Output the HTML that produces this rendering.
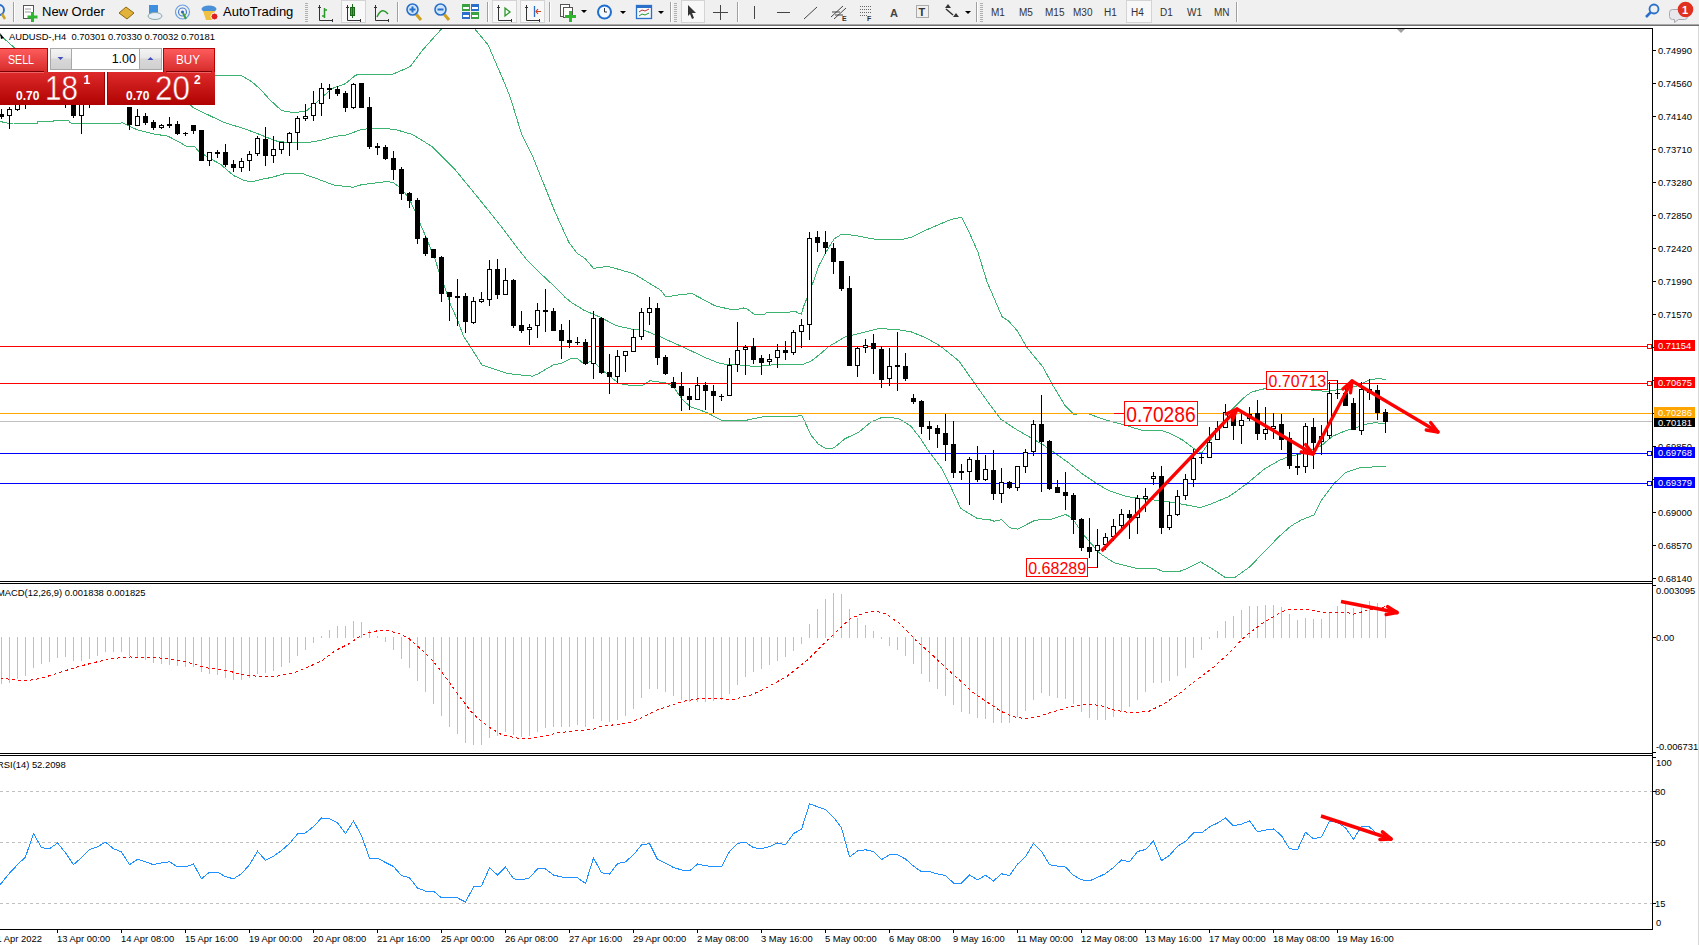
<!DOCTYPE html>
<html><head><meta charset="utf-8"><title>AUDUSD H4</title>
<style>
html,body{margin:0;padding:0;background:#fff;}
body{width:1699px;height:945px;overflow:hidden;position:relative;}
svg{position:absolute;left:0;top:0;font-family:"Liberation Sans", sans-serif;}
</style></head><body>
<svg width="1699" height="945" viewBox="0 0 1699 945">
<defs><clipPath id="mainclip"><rect x="0" y="29" width="1652" height="552"/></clipPath></defs>
<rect x="0" y="0" width="1699" height="945" fill="#fff"/>
<g clip-path="url(#mainclip)">
<polyline points="0.5,35.5 11.5,45.2 16.5,49.5 217.6,75.9 229.1,75.9 230.0,75.0 238.6,75.0 242.4,76.1 251.9,81.8 261.5,90.4 269.1,99.0 281.5,110.6 290.5,112.1 295.2,112.8 306.5,110.7 319.0,100.3 331.4,88.8 345.6,83.6 355.2,75.5 359.4,74.0 393.3,74.0 410.2,66.6 422.9,49.7 441.9,28.5" fill="none" stroke="#3cb371" stroke-width="1" shape-rendering="crispEdges"/>
<polyline points="474.4,28.5 488.2,45.1 504.9,84.0 510.4,97.8 521.5,133.9 532.6,156.1 543.7,183.8 554.8,211.5 568.7,242.0 577.0,253.1 585.3,258.7 593.6,268.4 607.5,266.4 620.5,269.8 634.5,274.1 661.1,290.5 665.8,296.7 675.4,295.7 680.1,294.3 692.5,293.8 715.0,305.8 724.5,308.0 728.3,308.9 734.7,309.9 739.7,308.9 743.5,308.0 746.7,308.6 753.7,314.0 765.1,314.0 766.4,312.7 789.3,312.7 790.5,311.8 796.2,311.8 797.5,312.7 801.3,314.0 803.9,305.7 807.0,298.1 813.3,281.7 819.0,265.5 826.5,251.2 834.2,238.8 841.8,234.1 847.5,234.5 855.2,235.5 862.8,236.9 872.3,238.8 879.0,239.8 900.9,239.8 912.3,236.9 925.6,230.3 940.5,223.8 952.1,219.1 961.5,217.3 968.5,230.8 977.8,251.7 987.1,282.0 1002.2,317.0 1008.1,320.5 1017.4,330.9 1026.7,347.3 1043.0,367.0 1052.3,384.5 1065.3,406.0 1073.8,414.5 1081.5,413.1 1086.2,413.1 1105.3,419.8 1124.3,425.0 1143.4,430.7 1160.5,430.3 1169.1,432.9 1183.4,440.5 1195.7,450.0 1201.5,453.4 1209.1,442.4 1221.5,424.3 1231.3,410.1 1238.5,402.9 1245.7,396.1 1251.5,392.2 1260.1,389.6 1266.5,388.5 1290.5,389.0 1310.5,390.0 1321.2,390.7 1324.5,391.7 1337.8,389.8 1346.4,388.4 1356.9,386.0 1365.5,381.7 1372.1,379.3 1379.7,378.6 1385.5,379.8" fill="none" stroke="#3cb371" stroke-width="1" shape-rendering="crispEdges"/>
<polyline points="185.5,100.5 192.9,107.5 211.9,116.7 225.3,122.9 242.4,128.1 255.7,132.9 274.8,140.5 277.1,141.2 292.3,142.9 306.5,142.9 321.8,140.1 335.2,136.3 346.5,135.0 359.9,130.0 367.5,128.8 388.5,128.8 397.5,130.1 412.5,134.5 422.4,140.5 432.9,147.2 453.8,168.1 475.7,194.8 499.5,224.3 515.5,245.5 526.0,258.8 541.3,274.1 555.5,287.5 565.1,297.4 571.7,302.6 584.1,310.3 590.8,313.1 601.1,317.6 616.3,325.7 633.5,329.5 644.9,330.5 661.1,337.2 680.1,345.7 692.5,351.5 706.5,358.1 720.9,363.8 735.2,364.8 746.5,365.3 754.2,366.7 763.7,365.7 773.3,364.8 801.8,364.8 811.4,361.0 820.9,353.4 828.5,346.7 844.5,337.2 854.0,334.8 877.8,328.9 894.0,329.1 911.2,331.9 925.5,337.6 940.5,346.1 959.1,361.2 975.4,384.5 987.1,400.8 1001.1,419.5 1018.0,430.5 1031.4,438.1 1043.4,445.0 1055.0,453.1 1068.3,462.6 1082.6,474.1 1096.9,483.6 1108.5,490.5 1127.5,496.7 1144.7,499.1 1163.7,501.0 1182.8,504.3 1199.9,507.6 1211.4,503.8 1228.5,496.7 1237.6,490.5 1247.2,483.4 1264.3,469.1 1278.8,460.7 1288.3,456.5 1302.6,453.6 1321.6,445.5 1332.1,436.5 1345.5,430.7 1356.9,427.4 1364.5,424.5 1375.0,422.6 1385.5,424.1" fill="none" stroke="#3cb371" stroke-width="1" shape-rendering="crispEdges"/>
<polyline points="0.5,121.5 9.5,123.7 13.5,123.0 37.5,123.0 37.5,121.8 53.5,121.8 53.5,120.7 68.5,120.7 70.5,123.0 78.5,123.7 117.5,123.7 122.5,122.8 136.5,129.5 152.9,133.8 168.1,136.2 186.2,146.0 193.8,146.0 199.5,151.9 211.9,159.5 220.5,164.3 233.8,175.7 244.3,180.5 251.9,181.9 265.3,178.5 270.5,177.7 285.3,173.5 302.2,173.5 317.1,178.8 334.0,185.1 353.0,187.2 361.5,184.7 383.5,181.9 390.0,181.9 393.8,182.9 399.5,187.2 405.3,193.4 411.0,202.4 415.4,212.2 421.1,226.0 425.8,236.5 431.1,249.8 435.4,260.3 439.4,273.1 445.1,288.4 450.8,305.5 457.5,319.8 463.2,335.5 482.1,365.1 507.5,373.5 532.5,376.2 538.2,373.8 553.5,364.8 561.1,363.4 570.6,358.6 577.3,358.6 583.9,363.8 593.0,360.7 603.3,371.1 618.9,383.5 630.5,385.5 642.2,385.5 649.9,380.7 665.5,383.0 673.3,386.7 682.4,399.6 690.4,406.7 706.5,412.4 720.9,420.0 747.5,420.0 763.7,416.7 797.0,417.0 798.2,415.7 801.9,415.7 811.0,435.1 818.4,444.2 825.8,448.7 834.1,447.9 844.8,438.8 858.8,432.2 871.1,421.9 881.0,417.8 893.4,417.8 899.2,419.0 910.7,426.0 920.5,438.4 927.5,449.5 941.8,468.6 950.2,485.5 960.7,508.4 977.8,518.8 988.3,519.3 994.0,521.2 1001.6,519.8 1010.2,527.9 1017.8,529.1 1034.0,520.7 1039.7,519.8 1051.2,519.3 1065.5,514.5 1072.1,517.9 1079.7,529.3 1084.7,536.2 1099.9,553.4 1114.2,562.9 1135.2,568.1 1154.2,568.1 1163.7,571.5 1178.0,571.9 1184.7,569.5 1200.5,561.7 1212.7,569.1 1225.7,577.8 1234.4,577.8 1249.1,567.3 1254.3,562.1 1278.6,537.0 1290.8,526.1 1301.2,520.0 1314.2,514.8 1321.2,500.5 1334.0,483.6 1345.5,472.6 1359.7,467.9 1374.0,466.9 1385.5,466.9" fill="none" stroke="#3cb371" stroke-width="1" shape-rendering="crispEdges"/>
<rect x="0" y="346" width="1652" height="1" fill="#ff0000" />
<rect x="0" y="383" width="1652" height="1" fill="#ff0000" />
<rect x="0" y="413" width="1652" height="1" fill="#ffa500" />
<rect x="0" y="421" width="1652" height="1" fill="#c0c0c0" />
<rect x="0" y="453" width="1652" height="1" fill="#0000ff" />
<rect x="0" y="483" width="1652" height="1" fill="#0000ff" />
<rect x="1647.5" y="344.5" width="4" height="4" fill="#fff" stroke="#ff0000" stroke-width="1"/>
<rect x="1647.5" y="381.5" width="4" height="4" fill="#fff" stroke="#ff0000" stroke-width="1"/>
<rect x="1647.5" y="451.5" width="4" height="4" fill="#fff" stroke="#0000ff" stroke-width="1"/>
<rect x="1647.5" y="481.5" width="4" height="4" fill="#fff" stroke="#0000ff" stroke-width="1"/>
<rect x="1" y="109" width="1" height="10" fill="#000" />
<rect x="-1" y="114" width="5" height="3" fill="#000" />
<rect x="9" y="107" width="1" height="22" fill="#000" />
<rect x="7.5" y="109.5" width="4" height="6" fill="#fff" stroke="#000" stroke-width="1"/>
<rect x="17" y="95" width="1" height="16" fill="#000" />
<rect x="15.5" y="100.5" width="4" height="9" fill="#fff" stroke="#000" stroke-width="1"/>
<rect x="25" y="96" width="1" height="13" fill="#000" />
<rect x="23" y="99" width="5" height="4" fill="#000" />
<rect x="33" y="92" width="1" height="11" fill="#000" />
<rect x="31.5" y="95.5" width="4" height="4" fill="#fff" stroke="#000" stroke-width="1"/>
<rect x="41" y="90" width="1" height="12" fill="#000" />
<rect x="39" y="93" width="5" height="6" fill="#000" />
<rect x="49" y="88" width="1" height="13" fill="#000" />
<rect x="47.5" y="92.5" width="4" height="5" fill="#fff" stroke="#000" stroke-width="1"/>
<rect x="57" y="89" width="1" height="14" fill="#000" />
<rect x="55" y="94" width="5" height="6" fill="#000" />
<rect x="65" y="94" width="1" height="14" fill="#000" />
<rect x="63" y="97" width="5" height="4" fill="#000" />
<rect x="73" y="95" width="1" height="23" fill="#000" />
<rect x="71" y="100" width="5" height="16" fill="#000" />
<rect x="81" y="95" width="1" height="39" fill="#000" />
<rect x="79.5" y="100.5" width="4" height="15" fill="#fff" stroke="#000" stroke-width="1"/>
<rect x="89" y="96" width="1" height="12" fill="#000" />
<rect x="87" y="99" width="5" height="4" fill="#000" />
<rect x="97" y="90" width="1" height="13" fill="#000" />
<rect x="95.5" y="94.5" width="4" height="5" fill="#fff" stroke="#000" stroke-width="1"/>
<rect x="105" y="88" width="1" height="14" fill="#000" />
<rect x="103" y="92" width="5" height="6" fill="#000" />
<rect x="113" y="86" width="1" height="15" fill="#000" />
<rect x="111.5" y="90.5" width="4" height="6" fill="#fff" stroke="#000" stroke-width="1"/>
<rect x="121" y="92" width="1" height="12" fill="#000" />
<rect x="119" y="96" width="5" height="6" fill="#000" />
<rect x="129" y="107" width="1" height="23" fill="#000" />
<rect x="127" y="107" width="5" height="18" fill="#000" />
<rect x="137" y="109" width="1" height="17" fill="#000" />
<rect x="135.5" y="116.5" width="4" height="9" fill="#fff" stroke="#000" stroke-width="1"/>
<rect x="145" y="113" width="1" height="12" fill="#000" />
<rect x="143" y="116" width="5" height="7" fill="#000" />
<rect x="153" y="120" width="1" height="10" fill="#000" />
<rect x="151" y="122" width="5" height="6" fill="#000" />
<rect x="161" y="124" width="1" height="5" fill="#000" />
<rect x="159.5" y="125.5" width="4" height="2" fill="#fff" stroke="#000" stroke-width="1"/>
<rect x="169" y="117" width="1" height="11" fill="#000" />
<rect x="167" y="124" width="5" height="2" fill="#000" />
<rect x="177" y="121" width="1" height="14" fill="#000" />
<rect x="175" y="124" width="5" height="10" fill="#000" />
<rect x="185" y="132" width="1" height="4" fill="#000" />
<rect x="183" y="133" width="5" height="1" fill="#000" />
<rect x="193" y="125" width="1" height="9" fill="#000" />
<rect x="191" y="125" width="5" height="6" fill="#000" />
<rect x="201" y="130" width="1" height="31" fill="#000" />
<rect x="199" y="130" width="5" height="31" fill="#000" />
<rect x="209" y="152" width="1" height="14" fill="#000" />
<rect x="207.5" y="152.5" width="4" height="8" fill="#fff" stroke="#000" stroke-width="1"/>
<rect x="217" y="150" width="1" height="8" fill="#000" />
<rect x="215" y="152" width="5" height="2" fill="#000" />
<rect x="225" y="144" width="1" height="23" fill="#000" />
<rect x="223" y="152" width="5" height="13" fill="#000" />
<rect x="233" y="160" width="1" height="12" fill="#000" />
<rect x="231" y="164" width="5" height="4" fill="#000" />
<rect x="241" y="158" width="1" height="14" fill="#000" />
<rect x="239.5" y="161.5" width="4" height="6" fill="#fff" stroke="#000" stroke-width="1"/>
<rect x="249" y="151" width="1" height="20" fill="#000" />
<rect x="247.5" y="154.5" width="4" height="6" fill="#fff" stroke="#000" stroke-width="1"/>
<rect x="257" y="136" width="1" height="20" fill="#000" />
<rect x="255.5" y="138.5" width="4" height="15" fill="#fff" stroke="#000" stroke-width="1"/>
<rect x="265" y="127" width="1" height="39" fill="#000" />
<rect x="263" y="139" width="5" height="17" fill="#000" />
<rect x="273" y="136" width="1" height="27" fill="#000" />
<rect x="271.5" y="149.5" width="4" height="6" fill="#fff" stroke="#000" stroke-width="1"/>
<rect x="281" y="142" width="1" height="12" fill="#000" />
<rect x="279.5" y="142.5" width="4" height="7" fill="#fff" stroke="#000" stroke-width="1"/>
<rect x="289" y="132" width="1" height="24" fill="#000" />
<rect x="287.5" y="133.5" width="4" height="9" fill="#fff" stroke="#000" stroke-width="1"/>
<rect x="297" y="116" width="1" height="34" fill="#000" />
<rect x="295.5" y="118.5" width="4" height="14" fill="#fff" stroke="#000" stroke-width="1"/>
<rect x="305" y="104" width="1" height="17" fill="#000" />
<rect x="303.5" y="116.5" width="4" height="2" fill="#fff" stroke="#000" stroke-width="1"/>
<rect x="313" y="91" width="1" height="30" fill="#000" />
<rect x="311.5" y="103.5" width="4" height="12" fill="#fff" stroke="#000" stroke-width="1"/>
<rect x="321" y="83" width="1" height="33" fill="#000" />
<rect x="319.5" y="88.5" width="4" height="15" fill="#fff" stroke="#000" stroke-width="1"/>
<rect x="329" y="84" width="1" height="15" fill="#000" />
<rect x="327" y="88" width="5" height="2" fill="#000" />
<rect x="337" y="86" width="1" height="10" fill="#000" />
<rect x="335" y="89" width="5" height="5" fill="#000" />
<rect x="345" y="91" width="1" height="21" fill="#000" />
<rect x="343" y="93" width="5" height="15" fill="#000" />
<rect x="353" y="83" width="1" height="26" fill="#000" />
<rect x="351.5" y="84.5" width="4" height="23" fill="#fff" stroke="#000" stroke-width="1"/>
<rect x="361" y="83" width="1" height="25" fill="#000" />
<rect x="359" y="83" width="5" height="25" fill="#000" />
<rect x="369" y="97" width="1" height="52" fill="#000" />
<rect x="367" y="107" width="5" height="40" fill="#000" />
<rect x="377" y="143" width="1" height="12" fill="#000" />
<rect x="375" y="146" width="5" height="2" fill="#000" />
<rect x="385" y="145" width="1" height="15" fill="#000" />
<rect x="383" y="147" width="5" height="12" fill="#000" />
<rect x="393" y="151" width="1" height="29" fill="#000" />
<rect x="391" y="158" width="5" height="12" fill="#000" />
<rect x="401" y="167" width="1" height="33" fill="#000" />
<rect x="399" y="169" width="5" height="25" fill="#000" />
<rect x="409" y="192" width="1" height="16" fill="#000" />
<rect x="407" y="193" width="5" height="8" fill="#000" />
<rect x="417" y="198" width="1" height="46" fill="#000" />
<rect x="415" y="200" width="5" height="39" fill="#000" />
<rect x="425" y="236" width="1" height="20" fill="#000" />
<rect x="423" y="238" width="5" height="16" fill="#000" />
<rect x="433" y="249" width="1" height="9" fill="#000" />
<rect x="431" y="249" width="5" height="9" fill="#000" />
<rect x="441" y="256" width="1" height="46" fill="#000" />
<rect x="439" y="257" width="5" height="37" fill="#000" />
<rect x="449" y="292" width="1" height="29" fill="#000" />
<rect x="447" y="292" width="5" height="5" fill="#000" />
<rect x="457" y="279" width="1" height="47" fill="#000" />
<rect x="455" y="296" width="5" height="2" fill="#000" />
<rect x="465" y="293" width="1" height="40" fill="#000" />
<rect x="463" y="296" width="5" height="26" fill="#000" />
<rect x="473" y="297" width="1" height="27" fill="#000" />
<rect x="471.5" y="301.5" width="4" height="21" fill="#fff" stroke="#000" stroke-width="1"/>
<rect x="481" y="292" width="1" height="11" fill="#000" />
<rect x="479.5" y="299.5" width="4" height="2" fill="#fff" stroke="#000" stroke-width="1"/>
<rect x="489" y="260" width="1" height="46" fill="#000" />
<rect x="487.5" y="269.5" width="4" height="30" fill="#fff" stroke="#000" stroke-width="1"/>
<rect x="497" y="259" width="1" height="40" fill="#000" />
<rect x="495" y="269" width="5" height="26" fill="#000" />
<rect x="505" y="268" width="1" height="27" fill="#000" />
<rect x="503.5" y="280.5" width="4" height="14" fill="#fff" stroke="#000" stroke-width="1"/>
<rect x="513" y="279" width="1" height="49" fill="#000" />
<rect x="511" y="280" width="5" height="46" fill="#000" />
<rect x="521" y="311" width="1" height="22" fill="#000" />
<rect x="519" y="325" width="5" height="6" fill="#000" />
<rect x="529" y="324" width="1" height="21" fill="#000" />
<rect x="527.5" y="327.5" width="4" height="2" fill="#fff" stroke="#000" stroke-width="1"/>
<rect x="537" y="303" width="1" height="35" fill="#000" />
<rect x="535.5" y="310.5" width="4" height="15" fill="#fff" stroke="#000" stroke-width="1"/>
<rect x="545" y="289" width="1" height="43" fill="#000" />
<rect x="543" y="310" width="5" height="2" fill="#000" />
<rect x="553" y="308" width="1" height="23" fill="#000" />
<rect x="551" y="311" width="5" height="20" fill="#000" />
<rect x="561" y="324" width="1" height="35" fill="#000" />
<rect x="559" y="330" width="5" height="11" fill="#000" />
<rect x="569" y="320" width="1" height="28" fill="#000" />
<rect x="567" y="340" width="5" height="3" fill="#000" />
<rect x="577" y="337" width="1" height="8" fill="#000" />
<rect x="575" y="342" width="5" height="1" fill="#000" />
<rect x="585" y="339" width="1" height="26" fill="#000" />
<rect x="583" y="342" width="5" height="22" fill="#000" />
<rect x="593" y="311" width="1" height="68" fill="#000" />
<rect x="591.5" y="318.5" width="4" height="45" fill="#fff" stroke="#000" stroke-width="1"/>
<rect x="601" y="317" width="1" height="57" fill="#000" />
<rect x="599" y="318" width="5" height="55" fill="#000" />
<rect x="609" y="354" width="1" height="40" fill="#000" />
<rect x="607" y="372" width="5" height="5" fill="#000" />
<rect x="617" y="350" width="1" height="33" fill="#000" />
<rect x="615.5" y="356.5" width="4" height="20" fill="#fff" stroke="#000" stroke-width="1"/>
<rect x="625" y="351" width="1" height="21" fill="#000" />
<rect x="623.5" y="351.5" width="4" height="4" fill="#fff" stroke="#000" stroke-width="1"/>
<rect x="633" y="329" width="1" height="23" fill="#000" />
<rect x="631.5" y="337.5" width="4" height="14" fill="#fff" stroke="#000" stroke-width="1"/>
<rect x="641" y="308" width="1" height="32" fill="#000" />
<rect x="639.5" y="312.5" width="4" height="24" fill="#fff" stroke="#000" stroke-width="1"/>
<rect x="649" y="297" width="1" height="28" fill="#000" />
<rect x="647.5" y="308.5" width="4" height="4" fill="#fff" stroke="#000" stroke-width="1"/>
<rect x="657" y="303" width="1" height="62" fill="#000" />
<rect x="655" y="308" width="5" height="50" fill="#000" />
<rect x="665" y="355" width="1" height="20" fill="#000" />
<rect x="663" y="357" width="5" height="17" fill="#000" />
<rect x="673" y="377" width="1" height="11" fill="#000" />
<rect x="671" y="382" width="5" height="6" fill="#000" />
<rect x="681" y="372" width="1" height="39" fill="#000" />
<rect x="679" y="386" width="5" height="10" fill="#000" />
<rect x="689" y="388" width="1" height="22" fill="#000" />
<rect x="687" y="396" width="5" height="4" fill="#000" />
<rect x="697" y="377" width="1" height="23" fill="#000" />
<rect x="695.5" y="385.5" width="4" height="14" fill="#fff" stroke="#000" stroke-width="1"/>
<rect x="705" y="382" width="1" height="28" fill="#000" />
<rect x="703" y="385" width="5" height="6" fill="#000" />
<rect x="713" y="385" width="1" height="28" fill="#000" />
<rect x="711" y="391" width="5" height="5" fill="#000" />
<rect x="721" y="394" width="1" height="7" fill="#000" />
<rect x="719" y="396" width="5" height="1" fill="#000" />
<rect x="729" y="358" width="1" height="38" fill="#000" />
<rect x="727.5" y="365.5" width="4" height="30" fill="#fff" stroke="#000" stroke-width="1"/>
<rect x="737" y="322" width="1" height="50" fill="#000" />
<rect x="735.5" y="350.5" width="4" height="14" fill="#fff" stroke="#000" stroke-width="1"/>
<rect x="745" y="345" width="1" height="30" fill="#000" />
<rect x="743.5" y="347.5" width="4" height="2" fill="#fff" stroke="#000" stroke-width="1"/>
<rect x="753" y="338" width="1" height="26" fill="#000" />
<rect x="751" y="346" width="5" height="14" fill="#000" />
<rect x="761" y="355" width="1" height="20" fill="#000" />
<rect x="759" y="358" width="5" height="5" fill="#000" />
<rect x="769" y="354" width="1" height="11" fill="#000" />
<rect x="767.5" y="359.5" width="4" height="2" fill="#fff" stroke="#000" stroke-width="1"/>
<rect x="777" y="344" width="1" height="24" fill="#000" />
<rect x="775.5" y="350.5" width="4" height="7" fill="#fff" stroke="#000" stroke-width="1"/>
<rect x="785" y="341" width="1" height="19" fill="#000" />
<rect x="783" y="350" width="5" height="3" fill="#000" />
<rect x="793" y="330" width="1" height="25" fill="#000" />
<rect x="791.5" y="332.5" width="4" height="20" fill="#fff" stroke="#000" stroke-width="1"/>
<rect x="801" y="319" width="1" height="29" fill="#000" />
<rect x="799.5" y="325.5" width="4" height="6" fill="#fff" stroke="#000" stroke-width="1"/>
<rect x="809" y="232" width="1" height="108" fill="#000" />
<rect x="807.5" y="238.5" width="4" height="86" fill="#fff" stroke="#000" stroke-width="1"/>
<rect x="817" y="231" width="1" height="21" fill="#000" />
<rect x="815" y="237" width="5" height="6" fill="#000" />
<rect x="825" y="231" width="1" height="23" fill="#000" />
<rect x="823" y="242" width="5" height="6" fill="#000" />
<rect x="833" y="243" width="1" height="31" fill="#000" />
<rect x="831" y="248" width="5" height="14" fill="#000" />
<rect x="841" y="261" width="1" height="30" fill="#000" />
<rect x="839" y="261" width="5" height="28" fill="#000" />
<rect x="849" y="276" width="1" height="90" fill="#000" />
<rect x="847" y="288" width="5" height="78" fill="#000" />
<rect x="857" y="347" width="1" height="30" fill="#000" />
<rect x="855.5" y="348.5" width="4" height="17" fill="#fff" stroke="#000" stroke-width="1"/>
<rect x="865" y="339" width="1" height="14" fill="#000" />
<rect x="863.5" y="345.5" width="4" height="2" fill="#fff" stroke="#000" stroke-width="1"/>
<rect x="873" y="334" width="1" height="40" fill="#000" />
<rect x="871" y="343" width="5" height="6" fill="#000" />
<rect x="881" y="346" width="1" height="42" fill="#000" />
<rect x="879" y="349" width="5" height="31" fill="#000" />
<rect x="889" y="348" width="1" height="38" fill="#000" />
<rect x="887.5" y="366.5" width="4" height="12" fill="#fff" stroke="#000" stroke-width="1"/>
<rect x="897" y="332" width="1" height="59" fill="#000" />
<rect x="895" y="365" width="5" height="2" fill="#000" />
<rect x="905" y="353" width="1" height="28" fill="#000" />
<rect x="903" y="366" width="5" height="13" fill="#000" />
<rect x="913" y="394" width="1" height="10" fill="#000" />
<rect x="911" y="398" width="5" height="4" fill="#000" />
<rect x="921" y="400" width="1" height="34" fill="#000" />
<rect x="919" y="401" width="5" height="26" fill="#000" />
<rect x="929" y="421" width="1" height="19" fill="#000" />
<rect x="927" y="426" width="5" height="3" fill="#000" />
<rect x="937" y="425" width="1" height="23" fill="#000" />
<rect x="935" y="428" width="5" height="6" fill="#000" />
<rect x="945" y="414" width="1" height="47" fill="#000" />
<rect x="943" y="433" width="5" height="12" fill="#000" />
<rect x="953" y="421" width="1" height="57" fill="#000" />
<rect x="951" y="444" width="5" height="29" fill="#000" />
<rect x="961" y="464" width="1" height="16" fill="#000" />
<rect x="959" y="471" width="5" height="2" fill="#000" />
<rect x="969" y="457" width="1" height="48" fill="#000" />
<rect x="967.5" y="459.5" width="4" height="12" fill="#fff" stroke="#000" stroke-width="1"/>
<rect x="977" y="446" width="1" height="36" fill="#000" />
<rect x="975" y="460" width="5" height="20" fill="#000" />
<rect x="985" y="455" width="1" height="26" fill="#000" />
<rect x="983.5" y="469.5" width="4" height="10" fill="#fff" stroke="#000" stroke-width="1"/>
<rect x="993" y="450" width="1" height="50" fill="#000" />
<rect x="991" y="470" width="5" height="24" fill="#000" />
<rect x="1001" y="468" width="1" height="35" fill="#000" />
<rect x="999.5" y="482.5" width="4" height="11" fill="#fff" stroke="#000" stroke-width="1"/>
<rect x="1009" y="481" width="1" height="8" fill="#000" />
<rect x="1007" y="482" width="5" height="6" fill="#000" />
<rect x="1017" y="466" width="1" height="25" fill="#000" />
<rect x="1015.5" y="466.5" width="4" height="21" fill="#fff" stroke="#000" stroke-width="1"/>
<rect x="1025" y="449" width="1" height="24" fill="#000" />
<rect x="1023.5" y="452.5" width="4" height="14" fill="#fff" stroke="#000" stroke-width="1"/>
<rect x="1033" y="420" width="1" height="36" fill="#000" />
<rect x="1031.5" y="424.5" width="4" height="27" fill="#fff" stroke="#000" stroke-width="1"/>
<rect x="1041" y="395" width="1" height="97" fill="#000" />
<rect x="1039" y="424" width="5" height="18" fill="#000" />
<rect x="1049" y="440" width="1" height="50" fill="#000" />
<rect x="1047" y="441" width="5" height="48" fill="#000" />
<rect x="1057" y="480" width="1" height="13" fill="#000" />
<rect x="1055" y="487" width="5" height="6" fill="#000" />
<rect x="1065" y="472" width="1" height="38" fill="#000" />
<rect x="1063" y="492" width="5" height="4" fill="#000" />
<rect x="1073" y="493" width="1" height="41" fill="#000" />
<rect x="1071" y="495" width="5" height="25" fill="#000" />
<rect x="1081" y="518" width="1" height="33" fill="#000" />
<rect x="1079" y="519" width="5" height="29" fill="#000" />
<rect x="1089" y="518" width="1" height="40" fill="#000" />
<rect x="1087" y="547" width="5" height="5" fill="#000" />
<rect x="1097" y="529" width="1" height="39" fill="#000" />
<rect x="1095.5" y="545.5" width="4" height="5" fill="#fff" stroke="#000" stroke-width="1"/>
<rect x="1105" y="533" width="1" height="17" fill="#000" />
<rect x="1103.5" y="537.5" width="4" height="7" fill="#fff" stroke="#000" stroke-width="1"/>
<rect x="1113" y="519" width="1" height="22" fill="#000" />
<rect x="1111.5" y="526.5" width="4" height="10" fill="#fff" stroke="#000" stroke-width="1"/>
<rect x="1121" y="509" width="1" height="19" fill="#000" />
<rect x="1119.5" y="514.5" width="4" height="11" fill="#fff" stroke="#000" stroke-width="1"/>
<rect x="1129" y="510" width="1" height="29" fill="#000" />
<rect x="1127" y="514" width="5" height="4" fill="#000" />
<rect x="1137" y="495" width="1" height="39" fill="#000" />
<rect x="1135.5" y="498.5" width="4" height="19" fill="#fff" stroke="#000" stroke-width="1"/>
<rect x="1145" y="488" width="1" height="24" fill="#000" />
<rect x="1143.5" y="496.5" width="4" height="2" fill="#fff" stroke="#000" stroke-width="1"/>
<rect x="1153" y="472" width="1" height="13" fill="#000" />
<rect x="1151.5" y="476.5" width="4" height="2" fill="#fff" stroke="#000" stroke-width="1"/>
<rect x="1161" y="466" width="1" height="68" fill="#000" />
<rect x="1159" y="476" width="5" height="52" fill="#000" />
<rect x="1169" y="502" width="1" height="28" fill="#000" />
<rect x="1167.5" y="515.5" width="4" height="12" fill="#fff" stroke="#000" stroke-width="1"/>
<rect x="1177" y="490" width="1" height="26" fill="#000" />
<rect x="1175.5" y="496.5" width="4" height="18" fill="#fff" stroke="#000" stroke-width="1"/>
<rect x="1185" y="474" width="1" height="26" fill="#000" />
<rect x="1183.5" y="479.5" width="4" height="16" fill="#fff" stroke="#000" stroke-width="1"/>
<rect x="1193" y="449" width="1" height="38" fill="#000" />
<rect x="1191.5" y="458.5" width="4" height="21" fill="#fff" stroke="#000" stroke-width="1"/>
<rect x="1201" y="453" width="1" height="11" fill="#000" />
<rect x="1199" y="457" width="5" height="1" fill="#000" />
<rect x="1209" y="427" width="1" height="31" fill="#000" />
<rect x="1207.5" y="442.5" width="4" height="15" fill="#fff" stroke="#000" stroke-width="1"/>
<rect x="1217" y="421" width="1" height="19" fill="#000" />
<rect x="1215.5" y="428.5" width="4" height="11" fill="#fff" stroke="#000" stroke-width="1"/>
<rect x="1225" y="404" width="1" height="24" fill="#000" />
<rect x="1223.5" y="412.5" width="4" height="15" fill="#fff" stroke="#000" stroke-width="1"/>
<rect x="1233" y="409" width="1" height="31" fill="#000" />
<rect x="1231" y="415" width="5" height="11" fill="#000" />
<rect x="1241" y="411" width="1" height="33" fill="#000" />
<rect x="1239.5" y="420.5" width="4" height="5" fill="#fff" stroke="#000" stroke-width="1"/>
<rect x="1249" y="407" width="1" height="14" fill="#000" />
<rect x="1247.5" y="414.5" width="4" height="4" fill="#fff" stroke="#000" stroke-width="1"/>
<rect x="1257" y="400" width="1" height="40" fill="#000" />
<rect x="1255" y="413" width="5" height="21" fill="#000" />
<rect x="1265" y="407" width="1" height="33" fill="#000" />
<rect x="1263.5" y="429.5" width="4" height="4" fill="#fff" stroke="#000" stroke-width="1"/>
<rect x="1273" y="413" width="1" height="26" fill="#000" />
<rect x="1271.5" y="426.5" width="4" height="2" fill="#fff" stroke="#000" stroke-width="1"/>
<rect x="1281" y="414" width="1" height="36" fill="#000" />
<rect x="1279" y="424" width="5" height="16" fill="#000" />
<rect x="1289" y="432" width="1" height="37" fill="#000" />
<rect x="1287" y="438" width="5" height="28" fill="#000" />
<rect x="1297" y="454" width="1" height="21" fill="#000" />
<rect x="1295" y="466" width="5" height="2" fill="#000" />
<rect x="1305" y="423" width="1" height="50" fill="#000" />
<rect x="1303.5" y="426.5" width="4" height="40" fill="#fff" stroke="#000" stroke-width="1"/>
<rect x="1313" y="418" width="1" height="51" fill="#000" />
<rect x="1311" y="427" width="5" height="16" fill="#000" />
<rect x="1321" y="425" width="1" height="30" fill="#000" />
<rect x="1319.5" y="436.5" width="4" height="5" fill="#fff" stroke="#000" stroke-width="1"/>
<rect x="1329" y="382" width="1" height="57" fill="#000" />
<rect x="1327.5" y="393.5" width="4" height="42" fill="#fff" stroke="#000" stroke-width="1"/>
<rect x="1337" y="380" width="1" height="19" fill="#000" />
<rect x="1335" y="393" width="5" height="1" fill="#000" />
<rect x="1345" y="386" width="1" height="20" fill="#000" />
<rect x="1343" y="393" width="5" height="13" fill="#000" />
<rect x="1353" y="398" width="1" height="32" fill="#000" />
<rect x="1351" y="403" width="5" height="27" fill="#000" />
<rect x="1361" y="382" width="1" height="53" fill="#000" />
<rect x="1359.5" y="389.5" width="4" height="41" fill="#fff" stroke="#000" stroke-width="1"/>
<rect x="1369" y="379" width="1" height="21" fill="#000" />
<rect x="1367" y="389" width="5" height="4" fill="#000" />
<rect x="1377" y="385" width="1" height="35" fill="#000" />
<rect x="1375" y="390" width="5" height="23" fill="#000" />
<rect x="1385" y="409" width="1" height="24" fill="#000" />
<rect x="1383" y="412" width="5" height="10" fill="#000" />
</g>
<rect x="1088" y="567" width="9" height="1" fill="#ff0000" />
<rect x="1114" y="413" width="10" height="1" fill="#ff0000" />
<rect x="1328" y="380" width="9" height="1" fill="#ff0000" />
<rect x="1026.5" y="558.5" width="61" height="18" fill="#fff" stroke="#ff0000" stroke-width="1"/>
<text x="1028.2" y="574" font-size="16.8" fill="#ff0000" text-anchor="start" font-weight="normal" textLength="58" lengthAdjust="spacingAndGlyphs">0.68289</text>
<rect x="1124.5" y="401.5" width="73" height="24" fill="#fff" stroke="#ff0000" stroke-width="1"/>
<text x="1126.2" y="421.7" font-size="21.6" fill="#ff0000" text-anchor="start" font-weight="normal" textLength="69.5" lengthAdjust="spacingAndGlyphs">0.70286</text>
<rect x="1266.5" y="371.5" width="61" height="18" fill="#fff" stroke="#ff0000" stroke-width="1"/>
<text x="1268.6" y="387" font-size="16.6" fill="#ff0000" text-anchor="start" font-weight="normal" textLength="57.5" lengthAdjust="spacingAndGlyphs">0.70713</text>
<line x1="1101.5" y1="551" x2="1237" y2="409" stroke="#ff0000" stroke-width="3.3" stroke-linecap="butt"/>
<line x1="1237" y1="409" x2="1226.2" y2="414.1" stroke="#ff0000" stroke-width="3.3" stroke-linecap="round"/>
<line x1="1237" y1="409" x2="1232.4" y2="420.1" stroke="#ff0000" stroke-width="3.3" stroke-linecap="round"/>
<polygon points="1237,409 1234.0,415.8 1230.4,412.3" fill="#ff0000"/>
<line x1="1237" y1="409" x2="1313" y2="454" stroke="#ff0000" stroke-width="3.3" stroke-linecap="butt"/>
<line x1="1313" y1="454" x2="1305.6" y2="444.6" stroke="#ff0000" stroke-width="3.3" stroke-linecap="round"/>
<line x1="1313" y1="454" x2="1301.2" y2="452.0" stroke="#ff0000" stroke-width="3.3" stroke-linecap="round"/>
<polygon points="1313,454 1305.7,452.6 1308.3,448.3" fill="#ff0000"/>
<line x1="1313" y1="454" x2="1352" y2="381" stroke="#ff0000" stroke-width="3.3" stroke-linecap="butt"/>
<line x1="1352" y1="381" x2="1342.9" y2="388.9" stroke="#ff0000" stroke-width="3.3" stroke-linecap="round"/>
<line x1="1352" y1="381" x2="1350.5" y2="392.9" stroke="#ff0000" stroke-width="3.3" stroke-linecap="round"/>
<polygon points="1352,381 1350.9,388.4 1346.5,386.0" fill="#ff0000"/>
<line x1="1352" y1="381" x2="1438" y2="432" stroke="#ff0000" stroke-width="3.3" stroke-linecap="butt"/>
<line x1="1438" y1="432" x2="1430.6" y2="422.6" stroke="#ff0000" stroke-width="3.3" stroke-linecap="round"/>
<line x1="1438" y1="432" x2="1426.2" y2="430.0" stroke="#ff0000" stroke-width="3.3" stroke-linecap="round"/>
<polygon points="1438,432 1430.7,430.6 1433.3,426.3" fill="#ff0000"/>
<rect x="1" y="637" width="1" height="47" fill="#c0c0c0" />
<rect x="9" y="637" width="1" height="46" fill="#c0c0c0" />
<rect x="17" y="637" width="1" height="42" fill="#c0c0c0" />
<rect x="25" y="637" width="1" height="39" fill="#c0c0c0" />
<rect x="33" y="637" width="1" height="31" fill="#c0c0c0" />
<rect x="41" y="637" width="1" height="27" fill="#c0c0c0" />
<rect x="49" y="637" width="1" height="25" fill="#c0c0c0" />
<rect x="57" y="637" width="1" height="21" fill="#c0c0c0" />
<rect x="65" y="637" width="1" height="20" fill="#c0c0c0" />
<rect x="73" y="637" width="1" height="24" fill="#c0c0c0" />
<rect x="81" y="637" width="1" height="24" fill="#c0c0c0" />
<rect x="89" y="637" width="1" height="22" fill="#c0c0c0" />
<rect x="97" y="637" width="1" height="19" fill="#c0c0c0" />
<rect x="105" y="637" width="1" height="15" fill="#c0c0c0" />
<rect x="113" y="637" width="1" height="15" fill="#c0c0c0" />
<rect x="121" y="637" width="1" height="15" fill="#c0c0c0" />
<rect x="129" y="637" width="1" height="19" fill="#c0c0c0" />
<rect x="137" y="637" width="1" height="21" fill="#c0c0c0" />
<rect x="145" y="637" width="1" height="23" fill="#c0c0c0" />
<rect x="153" y="637" width="1" height="26" fill="#c0c0c0" />
<rect x="161" y="637" width="1" height="27" fill="#c0c0c0" />
<rect x="169" y="637" width="1" height="28" fill="#c0c0c0" />
<rect x="177" y="637" width="1" height="29" fill="#c0c0c0" />
<rect x="185" y="637" width="1" height="30" fill="#c0c0c0" />
<rect x="193" y="637" width="1" height="30" fill="#c0c0c0" />
<rect x="201" y="637" width="1" height="35" fill="#c0c0c0" />
<rect x="209" y="637" width="1" height="37" fill="#c0c0c0" />
<rect x="217" y="637" width="1" height="38" fill="#c0c0c0" />
<rect x="225" y="637" width="1" height="41" fill="#c0c0c0" />
<rect x="233" y="637" width="1" height="43" fill="#c0c0c0" />
<rect x="241" y="637" width="1" height="43" fill="#c0c0c0" />
<rect x="249" y="637" width="1" height="41" fill="#c0c0c0" />
<rect x="257" y="637" width="1" height="37" fill="#c0c0c0" />
<rect x="265" y="637" width="1" height="36" fill="#c0c0c0" />
<rect x="273" y="637" width="1" height="34" fill="#c0c0c0" />
<rect x="281" y="637" width="1" height="30" fill="#c0c0c0" />
<rect x="289" y="637" width="1" height="26" fill="#c0c0c0" />
<rect x="297" y="637" width="1" height="19" fill="#c0c0c0" />
<rect x="305" y="637" width="1" height="13" fill="#c0c0c0" />
<rect x="313" y="637" width="1" height="6" fill="#c0c0c0" />
<rect x="321" y="636" width="1" height="2" fill="#c0c0c0" />
<rect x="329" y="630" width="1" height="8" fill="#c0c0c0" />
<rect x="337" y="626" width="1" height="12" fill="#c0c0c0" />
<rect x="345" y="626" width="1" height="12" fill="#c0c0c0" />
<rect x="353" y="621" width="1" height="17" fill="#c0c0c0" />
<rect x="361" y="622" width="1" height="16" fill="#c0c0c0" />
<rect x="369" y="630" width="1" height="8" fill="#c0c0c0" />
<rect x="377" y="636" width="1" height="2" fill="#c0c0c0" />
<rect x="385" y="637" width="1" height="5" fill="#c0c0c0" />
<rect x="393" y="637" width="1" height="13" fill="#c0c0c0" />
<rect x="401" y="637" width="1" height="22" fill="#c0c0c0" />
<rect x="409" y="637" width="1" height="31" fill="#c0c0c0" />
<rect x="417" y="637" width="1" height="44" fill="#c0c0c0" />
<rect x="425" y="637" width="1" height="55" fill="#c0c0c0" />
<rect x="433" y="637" width="1" height="67" fill="#c0c0c0" />
<rect x="441" y="637" width="1" height="79" fill="#c0c0c0" />
<rect x="449" y="637" width="1" height="90" fill="#c0c0c0" />
<rect x="457" y="637" width="1" height="97" fill="#c0c0c0" />
<rect x="465" y="637" width="1" height="106" fill="#c0c0c0" />
<rect x="473" y="637" width="1" height="108" fill="#c0c0c0" />
<rect x="481" y="637" width="1" height="108" fill="#c0c0c0" />
<rect x="489" y="637" width="1" height="101" fill="#c0c0c0" />
<rect x="497" y="637" width="1" height="99" fill="#c0c0c0" />
<rect x="505" y="637" width="1" height="95" fill="#c0c0c0" />
<rect x="513" y="637" width="1" height="98" fill="#c0c0c0" />
<rect x="521" y="637" width="1" height="100" fill="#c0c0c0" />
<rect x="529" y="637" width="1" height="99" fill="#c0c0c0" />
<rect x="537" y="637" width="1" height="95" fill="#c0c0c0" />
<rect x="545" y="637" width="1" height="91" fill="#c0c0c0" />
<rect x="553" y="637" width="1" height="90" fill="#c0c0c0" />
<rect x="561" y="637" width="1" height="90" fill="#c0c0c0" />
<rect x="569" y="637" width="1" height="90" fill="#c0c0c0" />
<rect x="577" y="637" width="1" height="88" fill="#c0c0c0" />
<rect x="585" y="637" width="1" height="90" fill="#c0c0c0" />
<rect x="593" y="637" width="1" height="82" fill="#c0c0c0" />
<rect x="601" y="637" width="1" height="84" fill="#c0c0c0" />
<rect x="609" y="637" width="1" height="85" fill="#c0c0c0" />
<rect x="617" y="637" width="1" height="83" fill="#c0c0c0" />
<rect x="625" y="637" width="1" height="79" fill="#c0c0c0" />
<rect x="633" y="637" width="1" height="72" fill="#c0c0c0" />
<rect x="641" y="637" width="1" height="61" fill="#c0c0c0" />
<rect x="649" y="637" width="1" height="52" fill="#c0c0c0" />
<rect x="657" y="637" width="1" height="52" fill="#c0c0c0" />
<rect x="665" y="637" width="1" height="55" fill="#c0c0c0" />
<rect x="673" y="637" width="1" height="59" fill="#c0c0c0" />
<rect x="681" y="637" width="1" height="63" fill="#c0c0c0" />
<rect x="689" y="637" width="1" height="65" fill="#c0c0c0" />
<rect x="697" y="637" width="1" height="65" fill="#c0c0c0" />
<rect x="705" y="637" width="1" height="65" fill="#c0c0c0" />
<rect x="713" y="637" width="1" height="64" fill="#c0c0c0" />
<rect x="721" y="637" width="1" height="63" fill="#c0c0c0" />
<rect x="729" y="637" width="1" height="57" fill="#c0c0c0" />
<rect x="737" y="637" width="1" height="48" fill="#c0c0c0" />
<rect x="745" y="637" width="1" height="40" fill="#c0c0c0" />
<rect x="753" y="637" width="1" height="35" fill="#c0c0c0" />
<rect x="761" y="637" width="1" height="32" fill="#c0c0c0" />
<rect x="769" y="637" width="1" height="28" fill="#c0c0c0" />
<rect x="777" y="637" width="1" height="24" fill="#c0c0c0" />
<rect x="785" y="637" width="1" height="20" fill="#c0c0c0" />
<rect x="793" y="637" width="1" height="14" fill="#c0c0c0" />
<rect x="801" y="637" width="1" height="7" fill="#c0c0c0" />
<rect x="809" y="624" width="1" height="14" fill="#c0c0c0" />
<rect x="817" y="609" width="1" height="29" fill="#c0c0c0" />
<rect x="825" y="599" width="1" height="39" fill="#c0c0c0" />
<rect x="833" y="593" width="1" height="45" fill="#c0c0c0" />
<rect x="841" y="594" width="1" height="44" fill="#c0c0c0" />
<rect x="849" y="609" width="1" height="29" fill="#c0c0c0" />
<rect x="857" y="618" width="1" height="20" fill="#c0c0c0" />
<rect x="865" y="625" width="1" height="13" fill="#c0c0c0" />
<rect x="873" y="631" width="1" height="7" fill="#c0c0c0" />
<rect x="881" y="637" width="1" height="2" fill="#c0c0c0" />
<rect x="889" y="637" width="1" height="9" fill="#c0c0c0" />
<rect x="897" y="637" width="1" height="13" fill="#c0c0c0" />
<rect x="905" y="637" width="1" height="19" fill="#c0c0c0" />
<rect x="913" y="637" width="1" height="27" fill="#c0c0c0" />
<rect x="921" y="637" width="1" height="37" fill="#c0c0c0" />
<rect x="929" y="637" width="1" height="45" fill="#c0c0c0" />
<rect x="937" y="637" width="1" height="52" fill="#c0c0c0" />
<rect x="945" y="637" width="1" height="59" fill="#c0c0c0" />
<rect x="953" y="637" width="1" height="68" fill="#c0c0c0" />
<rect x="961" y="637" width="1" height="75" fill="#c0c0c0" />
<rect x="969" y="637" width="1" height="77" fill="#c0c0c0" />
<rect x="977" y="637" width="1" height="81" fill="#c0c0c0" />
<rect x="985" y="637" width="1" height="82" fill="#c0c0c0" />
<rect x="993" y="637" width="1" height="86" fill="#c0c0c0" />
<rect x="1001" y="637" width="1" height="86" fill="#c0c0c0" />
<rect x="1009" y="637" width="1" height="86" fill="#c0c0c0" />
<rect x="1017" y="637" width="1" height="80" fill="#c0c0c0" />
<rect x="1025" y="637" width="1" height="74" fill="#c0c0c0" />
<rect x="1033" y="637" width="1" height="63" fill="#c0c0c0" />
<rect x="1041" y="637" width="1" height="56" fill="#c0c0c0" />
<rect x="1049" y="637" width="1" height="59" fill="#c0c0c0" />
<rect x="1057" y="637" width="1" height="61" fill="#c0c0c0" />
<rect x="1065" y="637" width="1" height="62" fill="#c0c0c0" />
<rect x="1073" y="637" width="1" height="67" fill="#c0c0c0" />
<rect x="1081" y="637" width="1" height="75" fill="#c0c0c0" />
<rect x="1089" y="637" width="1" height="81" fill="#c0c0c0" />
<rect x="1097" y="637" width="1" height="83" fill="#c0c0c0" />
<rect x="1105" y="637" width="1" height="83" fill="#c0c0c0" />
<rect x="1113" y="637" width="1" height="80" fill="#c0c0c0" />
<rect x="1121" y="637" width="1" height="74" fill="#c0c0c0" />
<rect x="1129" y="637" width="1" height="70" fill="#c0c0c0" />
<rect x="1137" y="637" width="1" height="63" fill="#c0c0c0" />
<rect x="1145" y="637" width="1" height="55" fill="#c0c0c0" />
<rect x="1153" y="637" width="1" height="46" fill="#c0c0c0" />
<rect x="1161" y="637" width="1" height="46" fill="#c0c0c0" />
<rect x="1169" y="637" width="1" height="44" fill="#c0c0c0" />
<rect x="1177" y="637" width="1" height="39" fill="#c0c0c0" />
<rect x="1185" y="637" width="1" height="31" fill="#c0c0c0" />
<rect x="1193" y="637" width="1" height="21" fill="#c0c0c0" />
<rect x="1201" y="637" width="1" height="13" fill="#c0c0c0" />
<rect x="1209" y="637" width="1" height="2" fill="#c0c0c0" />
<rect x="1217" y="631" width="1" height="7" fill="#c0c0c0" />
<rect x="1225" y="621" width="1" height="17" fill="#c0c0c0" />
<rect x="1233" y="616" width="1" height="22" fill="#c0c0c0" />
<rect x="1241" y="610" width="1" height="28" fill="#c0c0c0" />
<rect x="1249" y="606" width="1" height="32" fill="#c0c0c0" />
<rect x="1257" y="606" width="1" height="32" fill="#c0c0c0" />
<rect x="1265" y="605" width="1" height="33" fill="#c0c0c0" />
<rect x="1273" y="605" width="1" height="33" fill="#c0c0c0" />
<rect x="1281" y="607" width="1" height="31" fill="#c0c0c0" />
<rect x="1289" y="614" width="1" height="24" fill="#c0c0c0" />
<rect x="1297" y="620" width="1" height="18" fill="#c0c0c0" />
<rect x="1305" y="618" width="1" height="20" fill="#c0c0c0" />
<rect x="1313" y="619" width="1" height="19" fill="#c0c0c0" />
<rect x="1321" y="619" width="1" height="19" fill="#c0c0c0" />
<rect x="1329" y="612" width="1" height="26" fill="#c0c0c0" />
<rect x="1337" y="606" width="1" height="32" fill="#c0c0c0" />
<rect x="1345" y="604" width="1" height="34" fill="#c0c0c0" />
<rect x="1353" y="608" width="1" height="30" fill="#c0c0c0" />
<rect x="1361" y="607" width="1" height="31" fill="#c0c0c0" />
<rect x="1369" y="601" width="1" height="37" fill="#c0c0c0" />
<rect x="1377" y="603" width="1" height="35" fill="#c0c0c0" />
<rect x="1385" y="609" width="1" height="29" fill="#c0c0c0" />
<polyline points="0.5,677.9 7.5,678.9 24.5,681.0 41.5,678.2 59.8,672.5 78.2,666.6 96.5,662.0 113.5,658.4 130.5,657.0 163.0,658.1 187.0,662.0 205.3,667.6 226.5,670.4 239.3,673.8 250.6,675.7 264.8,676.7 276.1,676.4 293.0,673.1 307.1,667.5 321.3,661.1 335.4,650.5 349.5,643.5 360.8,635.7 372.1,631.5 384.8,630.1 397.5,632.9 408.8,638.5 420.1,648.4 434.3,662.5 448.4,680.9 458.8,695.5 472.9,713.8 487.0,725.9 501.1,734.3 515.3,737.9 529.4,739.0 543.5,736.2 557.6,732.9 571.8,731.1 593.0,729.4 600.0,726.6 628.3,723.0 642.4,717.4 656.5,710.3 672.2,704.9 684.9,701.1 701.8,698.2 723.0,698.8 730.1,700.2 751.3,695.0 765.4,688.3 786.6,676.6 807.8,659.7 821.9,645.5 836.0,632.1 850.1,618.7 864.3,613.0 875.6,610.9 885.5,613.8 899.6,623.6 916.6,640.9 930.8,653.6 944.9,667.0 959.0,679.7 973.1,692.4 987.3,702.3 1001.4,711.5 1012.7,716.7 1025.4,718.6 1036.7,717.2 1050.8,712.5 1072.0,706.3 1086.1,704.0 1100.3,705.4 1114.4,710.1 1128.5,712.5 1148.4,711.6 1163.2,704.2 1179.7,693.5 1196.2,680.3 1212.7,668.0 1229.1,653.1 1245.6,635.8 1262.1,623.5 1278.6,613.6 1286.8,609.9 1311.5,609.9 1323.1,612.7 1347.8,612.7 1352.7,614.4 1369.2,609.9 1385.7,606.7" fill="none" stroke="#ff0000" stroke-width="1" stroke-dasharray="3,3" shape-rendering="crispEdges"/>
<line x1="1341" y1="601.5" x2="1397" y2="612.5" stroke="#ff0000" stroke-width="3.6" stroke-linecap="butt"/>
<line x1="1397" y1="612.5" x2="1387.7" y2="606.7" stroke="#ff0000" stroke-width="3.6" stroke-linecap="round"/>
<line x1="1397" y1="612.5" x2="1386.2" y2="614.4" stroke="#ff0000" stroke-width="3.6" stroke-linecap="round"/>
<polygon points="1397,612.5 1389.6,613.6 1390.6,608.7" fill="#ff0000"/>
<line x1="0" y1="791.5" x2="1652" y2="791.5" stroke="#c0c0c0" stroke-width="1" stroke-dasharray="3,3"/>
<line x1="0" y1="842.5" x2="1652" y2="842.5" stroke="#c0c0c0" stroke-width="1" stroke-dasharray="3,3"/>
<line x1="0" y1="903.5" x2="1652" y2="903.5" stroke="#c0c0c0" stroke-width="1" stroke-dasharray="3,3"/>
<polyline points="-6.5,891.5 1.5,883.0 9.5,873.1 17.5,864.7 25.5,856.9 33.5,833.6 41.5,847.7 49.5,848.8 57.5,843.0 65.5,852.7 73.5,864.7 81.5,857.6 89.5,849.5 97.5,846.7 105.5,842.1 113.5,848.7 121.5,852.0 129.5,864.7 137.5,859.3 145.5,861.8 153.5,864.7 161.5,862.8 169.5,861.8 177.5,866.8 185.5,866.8 193.5,864.0 201.5,878.8 209.5,872.2 217.5,872.2 225.5,876.7 233.5,878.8 241.5,873.8 249.5,864.7 257.5,851.2 265.5,860.4 273.5,856.2 281.5,850.5 289.5,843.5 297.5,834.0 305.5,832.9 313.5,826.5 321.5,818.0 329.5,818.8 337.5,822.7 345.5,833.6 353.5,820.9 361.5,835.7 369.5,858.0 377.5,858.0 385.5,862.5 393.5,866.5 401.5,875.5 409.5,877.8 417.5,888.0 425.5,891.1 433.5,891.1 441.5,897.9 449.5,897.9 457.5,897.9 465.5,902.1 473.5,887.0 481.5,885.9 489.5,867.9 497.5,875.0 505.5,867.1 513.5,878.8 521.5,879.8 529.5,877.8 537.5,868.9 545.5,868.9 553.5,875.0 561.5,877.0 569.5,877.8 577.5,877.8 585.5,883.5 593.5,858.0 601.5,872.7 609.5,874.1 617.5,863.7 625.5,861.8 633.5,854.8 641.5,844.9 649.5,843.5 657.5,859.4 665.5,863.2 673.5,867.5 681.5,869.9 689.5,871.0 697.5,864.0 705.5,865.7 713.5,866.8 721.5,866.8 729.5,851.5 737.5,843.5 745.5,842.1 753.5,847.7 761.5,848.7 769.5,846.7 777.5,843.0 785.5,844.9 793.5,833.6 801.5,829.3 809.5,803.9 817.5,806.7 825.5,809.6 833.5,817.3 841.5,827.9 849.5,856.9 857.5,851.0 865.5,849.8 873.5,851.5 881.5,859.7 889.5,854.8 897.5,854.8 905.5,859.0 913.5,866.1 921.5,871.7 929.5,871.7 937.5,873.9 945.5,875.5 953.5,883.0 961.5,883.0 969.5,875.0 977.5,879.8 985.5,875.3 993.5,880.9 1001.5,873.8 1009.5,875.5 1017.5,864.2 1025.5,856.6 1033.5,843.5 1041.5,851.2 1049.5,864.7 1057.5,866.1 1065.5,867.1 1073.5,875.3 1081.5,879.8 1089.5,880.9 1097.5,877.4 1105.5,873.6 1113.5,867.5 1121.5,860.0 1129.5,861.8 1137.5,851.5 1145.5,849.5 1153.5,841.1 1161.5,860.8 1169.5,855.3 1177.5,846.3 1185.5,841.4 1193.5,832.9 1201.5,832.9 1209.5,826.9 1217.5,823.0 1225.5,818.0 1233.5,825.8 1241.5,824.1 1249.5,820.9 1257.5,831.7 1265.5,830.1 1273.5,828.9 1281.5,835.7 1289.5,848.7 1297.5,849.8 1305.5,832.2 1313.5,838.8 1321.5,836.8 1329.5,821.3 1337.5,822.3 1345.5,827.9 1353.5,839.2 1361.5,826.5 1369.5,826.9 1377.5,834.3 1385.5,839.2" fill="none" stroke="#1e90ff" stroke-width="1" shape-rendering="crispEdges"/>
<line x1="1321" y1="816" x2="1391" y2="839" stroke="#ff0000" stroke-width="3.6" stroke-linecap="butt"/>
<line x1="1391" y1="839" x2="1382.5" y2="832.0" stroke="#ff0000" stroke-width="3.6" stroke-linecap="round"/>
<line x1="1391" y1="839" x2="1380.0" y2="839.5" stroke="#ff0000" stroke-width="3.6" stroke-linecap="round"/>
<polygon points="1391,839 1383.6,839.2 1385.1,834.4" fill="#ff0000"/>
<rect x="0" y="28" width="1653" height="1" fill="#000" />
<rect x="0" y="581" width="1653" height="1" fill="#000" />
<rect x="0" y="583" width="1653" height="1" fill="#000" />
<rect x="0" y="753" width="1653" height="1" fill="#000" />
<rect x="0" y="755" width="1653" height="1" fill="#000" />
<rect x="0" y="929" width="1653" height="1" fill="#000" />
<rect x="1652" y="28" width="1" height="902" fill="#000" />
<rect x="1698" y="26" width="1" height="919" fill="#d8d8d8" />
<rect x="1653" y="50" width="3" height="1" fill="#000" />
<text x="1658" y="54" font-size="9.4" fill="#000" text-anchor="start" font-weight="normal" >0.74990</text>
<rect x="1653" y="83" width="3" height="1" fill="#000" />
<text x="1658" y="87" font-size="9.4" fill="#000" text-anchor="start" font-weight="normal" >0.74560</text>
<rect x="1653" y="116" width="3" height="1" fill="#000" />
<text x="1658" y="120" font-size="9.4" fill="#000" text-anchor="start" font-weight="normal" >0.74140</text>
<rect x="1653" y="149" width="3" height="1" fill="#000" />
<text x="1658" y="153" font-size="9.4" fill="#000" text-anchor="start" font-weight="normal" >0.73710</text>
<rect x="1653" y="182" width="3" height="1" fill="#000" />
<text x="1658" y="186" font-size="9.4" fill="#000" text-anchor="start" font-weight="normal" >0.73280</text>
<rect x="1653" y="215" width="3" height="1" fill="#000" />
<text x="1658" y="219" font-size="9.4" fill="#000" text-anchor="start" font-weight="normal" >0.72850</text>
<rect x="1653" y="248" width="3" height="1" fill="#000" />
<text x="1658" y="252" font-size="9.4" fill="#000" text-anchor="start" font-weight="normal" >0.72420</text>
<rect x="1653" y="281" width="3" height="1" fill="#000" />
<text x="1658" y="285" font-size="9.4" fill="#000" text-anchor="start" font-weight="normal" >0.71990</text>
<rect x="1653" y="314" width="3" height="1" fill="#000" />
<text x="1658" y="318" font-size="9.4" fill="#000" text-anchor="start" font-weight="normal" >0.71570</text>
<rect x="1653" y="347" width="3" height="1" fill="#000" />
<text x="1658" y="351" font-size="9.4" fill="#000" text-anchor="start" font-weight="normal" >0.71140</text>
<rect x="1653" y="380" width="3" height="1" fill="#000" />
<text x="1658" y="384" font-size="9.4" fill="#000" text-anchor="start" font-weight="normal" >0.70710</text>
<rect x="1653" y="413" width="3" height="1" fill="#000" />
<text x="1658" y="417" font-size="9.4" fill="#000" text-anchor="start" font-weight="normal" >0.70280</text>
<rect x="1653" y="446" width="3" height="1" fill="#000" />
<text x="1658" y="450" font-size="9.4" fill="#000" text-anchor="start" font-weight="normal" >0.69850</text>
<rect x="1653" y="479" width="3" height="1" fill="#000" />
<text x="1658" y="483" font-size="9.4" fill="#000" text-anchor="start" font-weight="normal" >0.69430</text>
<rect x="1653" y="512" width="3" height="1" fill="#000" />
<text x="1658" y="516" font-size="9.4" fill="#000" text-anchor="start" font-weight="normal" >0.69000</text>
<rect x="1653" y="545" width="3" height="1" fill="#000" />
<text x="1658" y="549" font-size="9.4" fill="#000" text-anchor="start" font-weight="normal" >0.68570</text>
<rect x="1653" y="578" width="3" height="1" fill="#000" />
<text x="1658" y="582" font-size="9.4" fill="#000" text-anchor="start" font-weight="normal" >0.68140</text>
<rect x="1654" y="340" width="41" height="11" fill="#ff0000" />
<text x="1658" y="349" font-size="9.4" fill="#fff" text-anchor="start" font-weight="normal" >0.71154</text>
<rect x="1654" y="377" width="41" height="11" fill="#ff0000" />
<text x="1658" y="386" font-size="9.4" fill="#fff" text-anchor="start" font-weight="normal" >0.70675</text>
<rect x="1654" y="407" width="41" height="11" fill="#ffa500" />
<text x="1658" y="416" font-size="9.4" fill="#fff" text-anchor="start" font-weight="normal" >0.70286</text>
<rect x="1654" y="418" width="41" height="9" fill="#000000" />
<text x="1658" y="426" font-size="9.4" fill="#fff" text-anchor="start" font-weight="normal" >0.70181</text>
<rect x="1654" y="447" width="41" height="11" fill="#0000ff" />
<text x="1658" y="456" font-size="9.4" fill="#fff" text-anchor="start" font-weight="normal" >0.69768</text>
<rect x="1654" y="477" width="41" height="11" fill="#0000ff" />
<text x="1658" y="486" font-size="9.4" fill="#fff" text-anchor="start" font-weight="normal" >0.69379</text>
<rect x="1653" y="585" width="3" height="1" fill="#000" />
<text x="1656" y="594" font-size="9.4" fill="#000" text-anchor="start" font-weight="normal" >0.003095</text>
<rect x="1653" y="637" width="3" height="1" fill="#000" />
<text x="1656" y="641" font-size="9.4" fill="#000" text-anchor="start" font-weight="normal" >0.00</text>
<rect x="1653" y="752" width="3" height="1" fill="#000" />
<text x="1656" y="750" font-size="9.4" fill="#000" text-anchor="start" font-weight="normal" >-0.006731</text>
<rect x="1653" y="757" width="3" height="1" fill="#000" />
<text x="1656" y="766" font-size="9.4" fill="#000" text-anchor="start" font-weight="normal" >100</text>
<rect x="1653" y="791" width="3" height="1" fill="#000" />
<text x="1655" y="795" font-size="9.4" fill="#000" text-anchor="start" font-weight="normal" >80</text>
<rect x="1653" y="842" width="3" height="1" fill="#000" />
<text x="1655" y="846" font-size="9.4" fill="#000" text-anchor="start" font-weight="normal" >50</text>
<rect x="1653" y="903" width="3" height="1" fill="#000" />
<text x="1655" y="907" font-size="9.4" fill="#000" text-anchor="start" font-weight="normal" >15</text>
<text x="1656" y="925.5" font-size="9.4" fill="#000" text-anchor="start" font-weight="normal" >0</text>
<text x="-8" y="942" font-size="9.4" fill="#000" text-anchor="start" font-weight="normal" >11 Apr 2022</text>
<rect x="57" y="930" width="1" height="3" fill="#000" />
<text x="57" y="942" font-size="9.4" fill="#000" text-anchor="start" font-weight="normal" >13 Apr 00:00</text>
<rect x="121" y="930" width="1" height="3" fill="#000" />
<text x="121" y="942" font-size="9.4" fill="#000" text-anchor="start" font-weight="normal" >14 Apr 08:00</text>
<rect x="185" y="930" width="1" height="3" fill="#000" />
<text x="185" y="942" font-size="9.4" fill="#000" text-anchor="start" font-weight="normal" >15 Apr 16:00</text>
<rect x="249" y="930" width="1" height="3" fill="#000" />
<text x="249" y="942" font-size="9.4" fill="#000" text-anchor="start" font-weight="normal" >19 Apr 00:00</text>
<rect x="313" y="930" width="1" height="3" fill="#000" />
<text x="313" y="942" font-size="9.4" fill="#000" text-anchor="start" font-weight="normal" >20 Apr 08:00</text>
<rect x="377" y="930" width="1" height="3" fill="#000" />
<text x="377" y="942" font-size="9.4" fill="#000" text-anchor="start" font-weight="normal" >21 Apr 16:00</text>
<rect x="441" y="930" width="1" height="3" fill="#000" />
<text x="441" y="942" font-size="9.4" fill="#000" text-anchor="start" font-weight="normal" >25 Apr 00:00</text>
<rect x="505" y="930" width="1" height="3" fill="#000" />
<text x="505" y="942" font-size="9.4" fill="#000" text-anchor="start" font-weight="normal" >26 Apr 08:00</text>
<rect x="569" y="930" width="1" height="3" fill="#000" />
<text x="569" y="942" font-size="9.4" fill="#000" text-anchor="start" font-weight="normal" >27 Apr 16:00</text>
<rect x="633" y="930" width="1" height="3" fill="#000" />
<text x="633" y="942" font-size="9.4" fill="#000" text-anchor="start" font-weight="normal" >29 Apr 00:00</text>
<rect x="697" y="930" width="1" height="3" fill="#000" />
<text x="697" y="942" font-size="9.4" fill="#000" text-anchor="start" font-weight="normal" >2 May 08:00</text>
<rect x="761" y="930" width="1" height="3" fill="#000" />
<text x="761" y="942" font-size="9.4" fill="#000" text-anchor="start" font-weight="normal" >3 May 16:00</text>
<rect x="825" y="930" width="1" height="3" fill="#000" />
<text x="825" y="942" font-size="9.4" fill="#000" text-anchor="start" font-weight="normal" >5 May 00:00</text>
<rect x="889" y="930" width="1" height="3" fill="#000" />
<text x="889" y="942" font-size="9.4" fill="#000" text-anchor="start" font-weight="normal" >6 May 08:00</text>
<rect x="953" y="930" width="1" height="3" fill="#000" />
<text x="953" y="942" font-size="9.4" fill="#000" text-anchor="start" font-weight="normal" >9 May 16:00</text>
<rect x="1017" y="930" width="1" height="3" fill="#000" />
<text x="1017" y="942" font-size="9.4" fill="#000" text-anchor="start" font-weight="normal" >11 May 00:00</text>
<rect x="1081" y="930" width="1" height="3" fill="#000" />
<text x="1081" y="942" font-size="9.4" fill="#000" text-anchor="start" font-weight="normal" >12 May 08:00</text>
<rect x="1145" y="930" width="1" height="3" fill="#000" />
<text x="1145" y="942" font-size="9.4" fill="#000" text-anchor="start" font-weight="normal" >13 May 16:00</text>
<rect x="1209" y="930" width="1" height="3" fill="#000" />
<text x="1209" y="942" font-size="9.4" fill="#000" text-anchor="start" font-weight="normal" >17 May 00:00</text>
<rect x="1273" y="930" width="1" height="3" fill="#000" />
<text x="1273" y="942" font-size="9.4" fill="#000" text-anchor="start" font-weight="normal" >18 May 08:00</text>
<rect x="1337" y="930" width="1" height="3" fill="#000" />
<text x="1337" y="942" font-size="9.4" fill="#000" text-anchor="start" font-weight="normal" >19 May 16:00</text>
<text x="0" y="40" font-size="9.4" fill="#000" text-anchor="start" font-weight="normal" ></text>
<text x="9" y="40" font-size="9.4" fill="#000" text-anchor="start" font-weight="normal" >AUDUSD-,H4&#160;&#160;0.70301 0.70330 0.70032 0.70181</text>
<text x="-3" y="596" font-size="9.4" fill="#000" text-anchor="start" font-weight="normal" >MACD(12,26,9) 0.001838 0.001825</text>
<text x="-3" y="768" font-size="9.4" fill="#000" text-anchor="start" font-weight="normal" >RSI(14) 52.2098</text>
<rect x="0" y="0" width="1699" height="24" fill="#f0f0f0"/>
<rect x="0" y="24" width="1699" height="1" fill="#a8a8a8"/>
<rect x="0" y="25" width="1699" height="1" fill="#707070"/>
<circle cx="-1" cy="10" r="5" fill="none" stroke="#2a6fc9" stroke-width="2"/><line x1="2" y1="14" x2="5" y2="19" stroke="#c9a227" stroke-width="2.5"/>
<rect x="13" y="2" width="1" height="20" fill="#a0a0a0"/><rect x="14" y="2" width="1" height="20" fill="#fff"/>
<rect x="23.5" y="5.5" width="10" height="13" fill="#fff" stroke="#555"/><line x1="25" y1="9" x2="31" y2="9" stroke="#999"/><line x1="25" y1="12" x2="31" y2="12" stroke="#999"/>
<rect x="31" y="12" width="3" height="10" fill="#2fb52f"/><rect x="27.5" y="15.5" width="10" height="3" fill="#2fb52f"/>
<text x="42" y="16" font-size="13" fill="#000">New Order</text>
<polygon points="119,13 126,7 134,13 127,19" fill="#e2b23a" stroke="#8a6a10"/>
<rect x="149" y="5" width="9" height="9" fill="#3f8fe0"/><ellipse cx="155" cy="16" rx="7" ry="3.5" fill="#e8eef6" stroke="#8aa"/>
<circle cx="182.5" cy="12" r="7" fill="none" stroke="#6aa0e0" stroke-width="1.2"/><circle cx="182.5" cy="12" r="4" fill="none" stroke="#4a80d0" stroke-width="1.2"/><circle cx="182.5" cy="12" r="1.5" fill="#2a60c0"/><path d="M183 13 L186 19" stroke="#3aa040" stroke-width="2"/>
<ellipse cx="209" cy="9" rx="7.5" ry="3.5" fill="#4a90d8"/><path d="M203 11 L215 11 L212 20 L206 20 Z" fill="#f0c040"/><circle cx="214.5" cy="16.5" r="3.5" fill="#e02020" stroke="#fff"/>
<text x="223" y="16" font-size="13" fill="#000">AutoTrading</text>
<rect x="305" y="3" width="3" height="1" fill="#b0b0b0"/>
<rect x="305" y="5" width="3" height="1" fill="#b0b0b0"/>
<rect x="305" y="7" width="3" height="1" fill="#b0b0b0"/>
<rect x="305" y="9" width="3" height="1" fill="#b0b0b0"/>
<rect x="305" y="11" width="3" height="1" fill="#b0b0b0"/>
<rect x="305" y="13" width="3" height="1" fill="#b0b0b0"/>
<rect x="305" y="15" width="3" height="1" fill="#b0b0b0"/>
<rect x="305" y="17" width="3" height="1" fill="#b0b0b0"/>
<rect x="305" y="19" width="3" height="1" fill="#b0b0b0"/>
<rect x="305" y="21" width="3" height="1" fill="#b0b0b0"/>
<path d="M319.5 5 V20.5 H333" fill="none" stroke="#333" stroke-width="1"/><rect x="318" y="7" width="3" height="1" fill="#333"/><rect x="332" y="19" width="1" height="3" fill="#333"/>
<path d="M324.5 18 V8 M322 16 H324.5 M324.5 10 H327" stroke="#2a9a2a" stroke-width="1.5" fill="none"/>
<rect x="341.5" y="0.5" width="24" height="22" fill="#f8f8f8" stroke="#d4d4d4"/>
<path d="M347.5 5 V20.5 H361" fill="none" stroke="#333" stroke-width="1"/><rect x="346" y="7" width="3" height="1" fill="#333"/><rect x="360" y="19" width="1" height="3" fill="#333"/>
<rect x="350.5" y="7.5" width="4" height="8" fill="#2fb52f" stroke="#1a6a1a"/><line x1="352.5" y1="4" x2="352.5" y2="18" stroke="#1a6a1a"/>
<path d="M375.5 5 V20.5 H389" fill="none" stroke="#333" stroke-width="1"/><rect x="374" y="7" width="3" height="1" fill="#333"/><rect x="388" y="19" width="1" height="3" fill="#333"/>
<path d="M377 17 Q382 6 388 14" fill="none" stroke="#2a9a2a" stroke-width="1.5"/>
<rect x="397" y="2" width="1" height="20" fill="#a0a0a0"/><rect x="398" y="2" width="1" height="20" fill="#fff"/>
<line x1="416" y1="14" x2="421" y2="20" stroke="#d0a020" stroke-width="3"/><circle cx="412.5" cy="9.5" r="5.5" fill="#cfe6fb" stroke="#2a6fc9" stroke-width="1.6"/>
<rect x="409.5" y="8.5" width="6" height="2" fill="#2a6fc9"/>
<rect x="411.5" y="6.5" width="2" height="6" fill="#2a6fc9"/>
<line x1="444" y1="14" x2="449" y2="20" stroke="#d0a020" stroke-width="3"/><circle cx="440.5" cy="9.5" r="5.5" fill="#cfe6fb" stroke="#2a6fc9" stroke-width="1.6"/>
<rect x="437.5" y="8.5" width="6" height="2" fill="#2a6fc9"/>
<rect x="462" y="4" width="8" height="7" fill="#3aa040"/><rect x="471" y="4" width="8" height="7" fill="#2a6fc9"/><rect x="462" y="12" width="8" height="7" fill="#2a6fc9"/><rect x="471" y="12" width="8" height="7" fill="#3aa040"/>
<rect x="463" y="7" width="6" height="2" fill="#fff"/><rect x="472" y="7" width="6" height="2" fill="#fff"/><rect x="463" y="15" width="6" height="2" fill="#fff"/><rect x="472" y="15" width="6" height="2" fill="#fff"/>
<rect x="487" y="2" width="1" height="20" fill="#a0a0a0"/><rect x="488" y="2" width="1" height="20" fill="#fff"/>
<rect x="492.5" y="0.5" width="24" height="22" fill="#f8f8f8" stroke="#d4d4d4"/>
<path d="M498.5 5 V20.5 H512" fill="none" stroke="#333" stroke-width="1"/><rect x="497" y="7" width="3" height="1" fill="#333"/><rect x="511" y="19" width="1" height="3" fill="#333"/>
<polygon points="505,8 510,12 505,16" fill="none" stroke="#2a9a2a" stroke-width="1.3"/>
<rect x="520.5" y="0.5" width="24" height="22" fill="#f8f8f8" stroke="#d4d4d4"/>
<path d="M526.5 5 V20.5 H540" fill="none" stroke="#333" stroke-width="1"/><rect x="525" y="7" width="3" height="1" fill="#333"/><rect x="539" y="19" width="1" height="3" fill="#333"/>
<line x1="534.5" y1="6" x2="534.5" y2="17" stroke="#2a6fc9" stroke-width="1.3"/><path d="M541 11.5 H536 M538 9 L536 11.5 L538 14" stroke="#d04020" stroke-width="1.2" fill="none"/>
<rect x="549" y="2" width="1" height="20" fill="#a0a0a0"/><rect x="550" y="2" width="1" height="20" fill="#fff"/>
<rect x="560.5" y="4.5" width="9" height="12" fill="#fff" stroke="#555"/><rect x="563.5" y="7.5" width="9" height="10" fill="#fff" stroke="#555"/>
<rect x="569" y="11" width="3" height="11" fill="#2fb52f"/><rect x="565" y="15" width="11" height="3" fill="#2fb52f"/>
<polygon points="581,10 587,10 584,13" fill="#000"/>
<circle cx="604.5" cy="12" r="7.5" fill="#1f6fd0"/><circle cx="604.5" cy="12" r="5.5" fill="#f4f8ff"/><path d="M604.5 8 V12 H607" stroke="#333" stroke-width="1" fill="none"/>
<polygon points="620,11 626,11 623,14" fill="#000"/>
<rect x="636.5" y="5.5" width="15" height="13" fill="#f4f8ff" stroke="#2a6fc9" stroke-width="1.3"/><rect x="637" y="6" width="14" height="2" fill="#2a6fc9"/><path d="M639 12 L642 10 L645 11 L649 9" stroke="#c03030" fill="none"/><path d="M639 16 L642 14 L645 15 L649 13" stroke="#2a9a2a" fill="none"/>
<polygon points="658,11 664,11 661,14" fill="#000"/>
<rect x="670" y="2" width="1" height="20" fill="#a0a0a0"/><rect x="671" y="2" width="1" height="20" fill="#fff"/>
<rect x="674" y="3" width="3" height="1" fill="#b0b0b0"/>
<rect x="674" y="5" width="3" height="1" fill="#b0b0b0"/>
<rect x="674" y="7" width="3" height="1" fill="#b0b0b0"/>
<rect x="674" y="9" width="3" height="1" fill="#b0b0b0"/>
<rect x="674" y="11" width="3" height="1" fill="#b0b0b0"/>
<rect x="674" y="13" width="3" height="1" fill="#b0b0b0"/>
<rect x="674" y="15" width="3" height="1" fill="#b0b0b0"/>
<rect x="674" y="17" width="3" height="1" fill="#b0b0b0"/>
<rect x="674" y="19" width="3" height="1" fill="#b0b0b0"/>
<rect x="674" y="21" width="3" height="1" fill="#b0b0b0"/>
<rect x="681.5" y="0.5" width="23" height="22" fill="#f8f8f8" stroke="#d4d4d4"/>
<polygon points="688,5 696,13 692,13 694,18 692,19 690,14 688,16" fill="#333"/>
<path d="M713 12.5 H728 M720.5 5 V20" stroke="#444" stroke-width="1" fill="none"/>
<rect x="737" y="2" width="1" height="20" fill="#a0a0a0"/><rect x="738" y="2" width="1" height="20" fill="#fff"/>
<rect x="754" y="6" width="1" height="13" fill="#444"/>
<rect x="777" y="12" width="13" height="1" fill="#444"/>
<line x1="804" y1="19" x2="817" y2="7" stroke="#444" stroke-width="1"/>
<path d="M831 17 L843 6 M834 19 L846 8 M832 12 L840 12 M835 15 L843 15" stroke="#444" stroke-width="1" fill="none"/><text x="842" y="21" font-size="7" fill="#333" font-weight="bold">E</text>
<path d="M860 6.5 H872 M860 9.5 H872 M860 12.5 H872 M860 15.5 H868" stroke="#666" stroke-dasharray="1,1" fill="none"/><text x="867" y="21" font-size="7" fill="#333" font-weight="bold">F</text>
<text x="890" y="17" font-size="11" fill="#444" font-weight="bold">A</text>
<rect x="916.5" y="5.5" width="12" height="12" fill="none" stroke="#666" stroke-dasharray="1,1"/><text x="918.5" y="16" font-size="11" fill="#333" font-weight="bold">T</text>
<polygon points="945,8 948,4 951,8" fill="#333"/><path d="M946 9 L953 15" stroke="#333" stroke-width="1.5"/><polygon points="953,17 956,13 959,17" fill="#333"/>
<polygon points="965,11 971,11 968,14" fill="#000"/>
<rect x="976" y="2" width="1" height="20" fill="#a0a0a0"/><rect x="977" y="2" width="1" height="20" fill="#fff"/>
<rect x="980" y="3" width="3" height="1" fill="#b0b0b0"/>
<rect x="980" y="5" width="3" height="1" fill="#b0b0b0"/>
<rect x="980" y="7" width="3" height="1" fill="#b0b0b0"/>
<rect x="980" y="9" width="3" height="1" fill="#b0b0b0"/>
<rect x="980" y="11" width="3" height="1" fill="#b0b0b0"/>
<rect x="980" y="13" width="3" height="1" fill="#b0b0b0"/>
<rect x="980" y="15" width="3" height="1" fill="#b0b0b0"/>
<rect x="980" y="17" width="3" height="1" fill="#b0b0b0"/>
<rect x="980" y="19" width="3" height="1" fill="#b0b0b0"/>
<rect x="980" y="21" width="3" height="1" fill="#b0b0b0"/>
<text x="991" y="16" font-size="10" fill="#333">M1</text>
<text x="1019" y="16" font-size="10" fill="#333">M5</text>
<text x="1045" y="16" font-size="10" fill="#333">M15</text>
<text x="1073" y="16" font-size="10" fill="#333">M30</text>
<text x="1104" y="16" font-size="10" fill="#333">H1</text>
<rect x="1126.5" y="0.5" width="25" height="22" fill="#f8f8f8" stroke="#d4d4d4"/>
<text x="1131" y="16" font-size="10" fill="#333">H4</text>
<text x="1160" y="16" font-size="10" fill="#333">D1</text>
<text x="1187" y="16" font-size="10" fill="#333">W1</text>
<text x="1214" y="16" font-size="10" fill="#333">MN</text>
<rect x="1236" y="2" width="1" height="20" fill="#a0a0a0"/><rect x="1237" y="2" width="1" height="20" fill="#fff"/>
<circle cx="1654" cy="9" r="4.5" fill="none" stroke="#2a6fc9" stroke-width="1.8"/><line x1="1650.5" y1="12.5" x2="1646" y2="17" stroke="#2a6fc9" stroke-width="2.5"/>
<path d="M1672.5 9.5 h12 a3 3 0 0 1 3 3 v4 a3 3 0 0 1 -3 3 h-6 l-4 3 v-3 h-2 a3 3 0 0 1 -3 -3 v-4 a3 3 0 0 1 3 -3z" fill="#e8e8ec" stroke="#a8a8b0"/><circle cx="1685.5" cy="9.5" r="7.8" fill="#e03020"/><text x="1682" y="14" font-size="11" font-weight="bold" fill="#fff">1</text>
<polygon points="1397,29 1405,29 1401,33" fill="#a0a0a0"/>
<defs><linearGradient id="gsell" x1="0" y1="0" x2="0" y2="1"><stop offset="0" stop-color="#ff5e5e"/><stop offset="1" stop-color="#d62a2a"/></linearGradient><linearGradient id="gprice" x1="0" y1="0" x2="0" y2="1"><stop offset="0" stop-color="#de2a2a"/><stop offset="1" stop-color="#b00202"/></linearGradient><linearGradient id="gpriceU" gradientUnits="userSpaceOnUse" x1="0" y1="72" x2="0" y2="105"><stop offset="0" stop-color="#de2a2a"/><stop offset="1" stop-color="#b00202"/></linearGradient><linearGradient id="gbtn" x1="0" y1="0" x2="0" y2="1"><stop offset="0" stop-color="#f4f4f4"/><stop offset="0.45" stop-color="#e8e8e8"/><stop offset="0.5" stop-color="#d8d8d8"/><stop offset="1" stop-color="#d0d0d0"/></linearGradient></defs>
<rect x="0" y="48" width="215" height="57" fill="#fff"/>
<rect x="0" y="48" width="48" height="24" fill="url(#gsell)"/>
<rect x="0" y="48" width="48" height="1" fill="#b80000"/><rect x="47" y="48" width="1" height="24" fill="#b80000"/>
<rect x="0" y="71" width="44" height="1" fill="#7a0000"/>
<text x="8" y="64" font-size="12" fill="#fff" textLength="26" lengthAdjust="spacingAndGlyphs">SELL</text>
<rect x="163" y="48" width="52" height="24" fill="url(#gsell)"/>
<rect x="163" y="48" width="52" height="1" fill="#b80000"/><rect x="163" y="48" width="1" height="24" fill="#b80000"/><rect x="214" y="48" width="1" height="24" fill="#b80000"/>
<rect x="166" y="71" width="46" height="1" fill="#7a0000"/>
<text x="176" y="64" font-size="12" fill="#fff" textLength="24" lengthAdjust="spacingAndGlyphs">BUY</text>
<rect x="50.5" y="48.5" width="111" height="21" fill="#fff" stroke="#a8a8a8"/>
<rect x="51" y="49" width="20" height="20" fill="url(#gbtn)"/><rect x="71" y="49" width="1" height="20" fill="#a8a8a8"/>
<rect x="140" y="49" width="21" height="20" fill="url(#gbtn)"/><rect x="139" y="49" width="1" height="20" fill="#a8a8a8"/>
<polygon points="57.5,57 63.5,57 60.5,60" fill="#4050c0"/>
<polygon points="147.5,60 153.5,60 150.5,57" fill="#4050c0"/>
<text x="136" y="63" font-size="12.5" fill="#000" text-anchor="end">1.00</text>
<rect x="0" y="72" width="105" height="33" fill="url(#gprice)"/>
<rect x="107" y="72" width="108" height="33" fill="url(#gprice)"/>
<rect x="104" y="72" width="1" height="33" fill="#a00000"/><rect x="107" y="72" width="1" height="33" fill="#a00000"/>
<rect x="0" y="72" width="44" height="1" fill="#ec6464"/><rect x="167" y="72" width="44" height="1" fill="#ec6464"/>
<text x="16" y="100" font-size="12" font-weight="bold" fill="#fff" textLength="23.5" lengthAdjust="spacingAndGlyphs">0.70</text>
<text x="45" y="100" font-size="35" fill="#fff" stroke="url(#gpriceU)" stroke-width="0.45" textLength="33" lengthAdjust="spacingAndGlyphs">18</text>
<text x="83.5" y="84" font-size="12" font-weight="bold" fill="#fff">1</text>
<text x="126" y="100" font-size="12" font-weight="bold" fill="#fff" textLength="23.5" lengthAdjust="spacingAndGlyphs">0.70</text>
<text x="155" y="100" font-size="35" fill="#fff" stroke="url(#gpriceU)" stroke-width="0.45" textLength="35" lengthAdjust="spacingAndGlyphs">20</text>
<text x="194" y="84" font-size="12" font-weight="bold" fill="#fff">2</text>
<polygon points="0,33 4,38 1,39" fill="#000"/>
</svg>
</body></html>
